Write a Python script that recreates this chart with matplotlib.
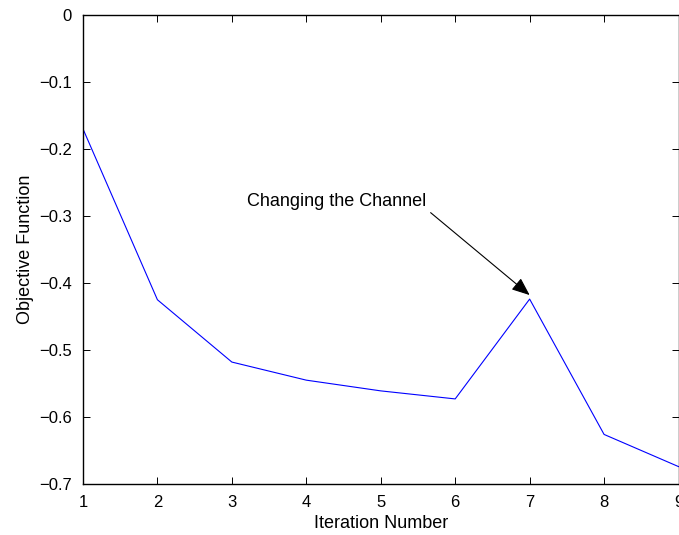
import matplotlib
matplotlib.use('Agg')
import matplotlib.pyplot as plt

plt.rcParams['font.family'] = ['Liberation Sans', 'DejaVu Sans']

# iteration vs objective function values
iterations = [1, 2, 3, 4, 5, 6, 7, 8, 9]
objective = [-0.170, -0.425, -0.518, -0.545, -0.561, -0.573, -0.424, -0.626, -0.674]

note_text = 'Changing the Channel'
note_xy = (3.2, -0.279)
arrow_start = (5.67, -0.295)
arrow_tip = (7.0, -0.418)

fig = plt.figure(figsize=(6.79, 5.35), dpi=100)
ax = fig.add_axes([0.1222, 0.0953, 0.8771, 0.8767])

ax.plot(iterations, objective, color='#0000ff', linewidth=0.8)

ax.set_xlim(1, 9)
ax.set_ylim(-0.7, 0)
ax.set_xticks(iterations)
ax.set_yticks([-0.7, -0.6, -0.5, -0.4, -0.3, -0.2, -0.1, 0])
ax.set_yticklabels(['\u22120.7', '\u22120.6', '\u22120.5', '\u22120.4', '\u22120.3',
                    '\u22120.2', '\u22120.1', '0'])
ax.tick_params(direction='in', length=5, width=0.7, top=True, right=True,
               labelsize=12, pad=8)
for sp in ax.spines.values():
    sp.set_linewidth(1.0)

ax.set_xlabel('Iteration Number', fontsize=13, labelpad=3.5)
ax.set_ylabel('Objective Function', fontsize=13, labelpad=3.5)

ax.text(note_xy[0], note_xy[1], note_text, fontsize=13, ha='left', va='center')
ax.annotate('', xy=arrow_tip, xytext=arrow_start,
            arrowprops=dict(arrowstyle='-|>,head_length=1.1,head_width=0.45',
                            color='black', linewidth=0.8, shrinkA=0, shrinkB=0))

fig.savefig('out.png', dpi=100)
